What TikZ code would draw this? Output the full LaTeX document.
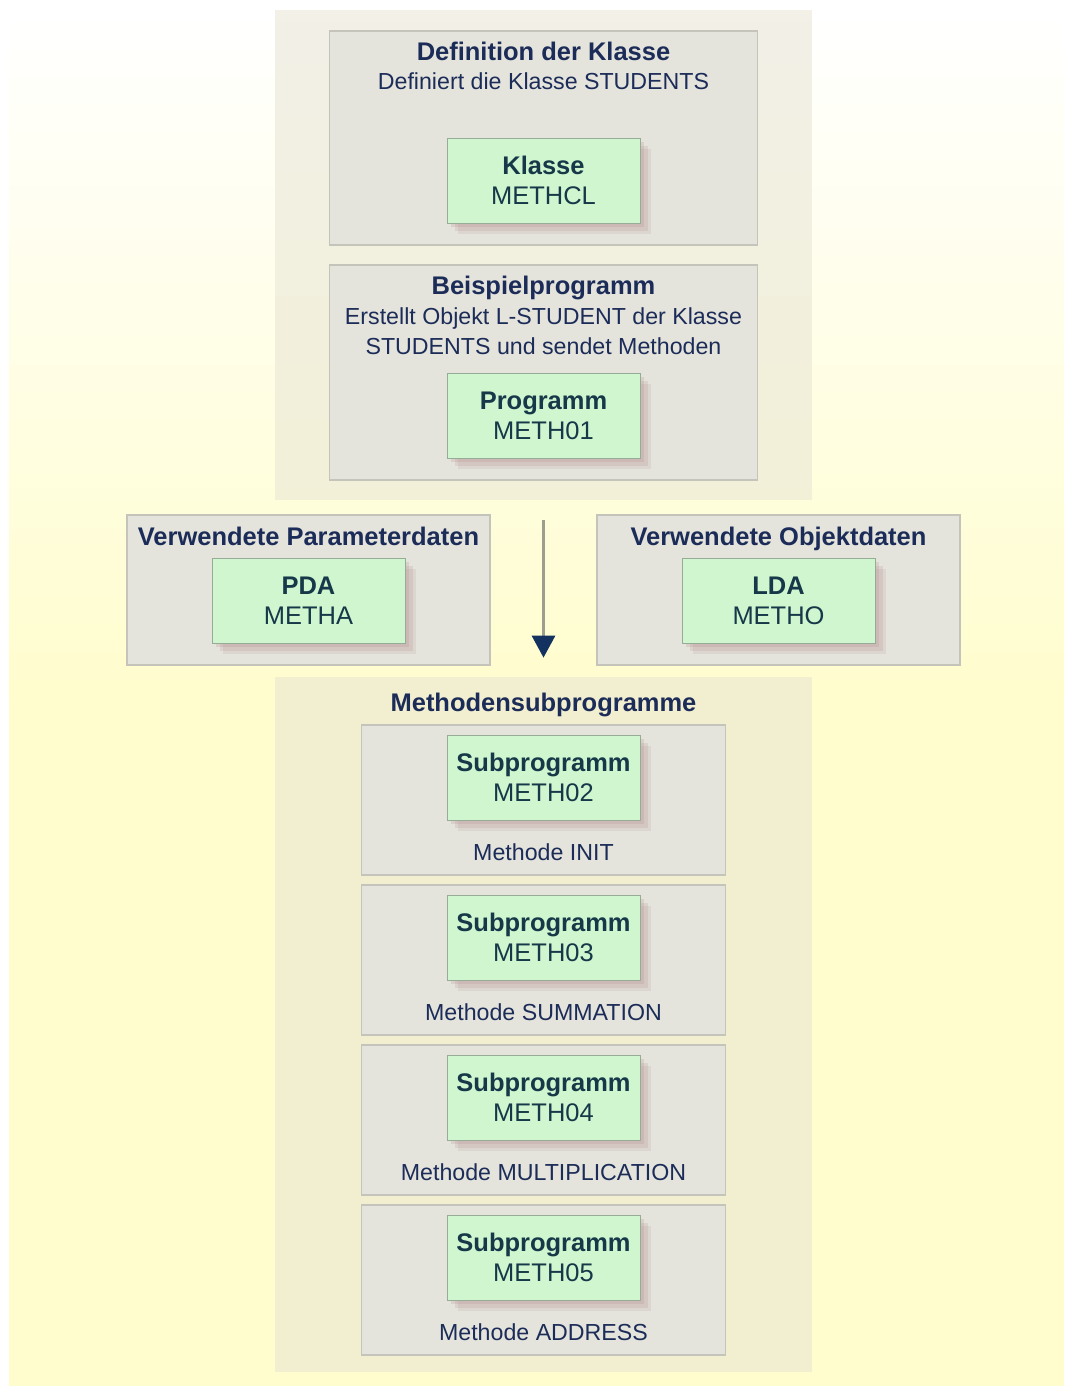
\documentclass[tikz,border=0pt]{standalone}
\usepackage{fontspec}
\setmainfont{Liberation Sans}
\usepackage{xcolor}
\usetikzlibrary{arrows.meta, positioning, shadows, calc}

\definecolor{navytext}{RGB}{28,44,88}
\definecolor{boxtext}{RGB}{22,56,72}
\definecolor{panelbg}{RGB}{232,229,212}
\definecolor{groupbg}{RGB}{228,227,220}
\definecolor{groupline}{RGB}{196,196,186}
\definecolor{modfill}{RGB}{208,246,208}
\definecolor{modline}{RGB}{150,172,150}
\definecolor{shadowred}{RGB}{170,125,125}
\definecolor{paperyellow}{RGB}{255,253,205}
\definecolor{arrowline}{RGB}{158,158,142}
\definecolor{arrowhead}{RGB}{20,50,95}

\begin{document}
\begin{tikzpicture}[
    font=\fontsize{13.2}{17}\selectfont,
    panel/.style={rectangle, fill=panelbg, fill opacity=0.55, minimum width=10.74cm,
                  inner sep=0pt},
    grp/.style={rectangle, draw=groupline, fill=groupbg, line width=0.6pt, inner sep=0pt},
    modbox/.style={rectangle, draw=modline, fill=modfill, minimum width=3.86cm,
                   minimum height=1.7cm, align=center, text=boxtext, inner sep=0pt,
                   font=\fontsize{14.5}{17}\selectfont,
                   drop shadow={shadow xshift=2.5pt, shadow yshift=-2.5pt, fill=shadowred, opacity=0.18},
                   drop shadow={shadow xshift=4.5pt, shadow yshift=-4.5pt, fill=shadowred, opacity=0.16},
                   drop shadow={shadow xshift=6.5pt, shadow yshift=-6.5pt, fill=shadowred, opacity=0.12}},
    ttl/.style={font=\fontsize{14.5}{17}\selectfont\bfseries, text=navytext,
                inner sep=0pt, anchor=base},
    note/.style={text=navytext, align=center, inner sep=0pt},
    flow/.style={arrowline, line width=1.7pt,
                 -{Triangle[color=arrowhead, length=0.44cm, width=0.46cm]}}
  ]

  \useasboundingbox (0,0) rectangle (21.28,-27.72);
  \fill[white] (0,0) rectangle (21.28,-27.72);
  \shade[top color=white, bottom color=paperyellow] (0.18,-0.3) rectangle (21.28,-14);
  \fill[paperyellow] (0.18,-14) rectangle (21.28,-27.72);

  \node[panel, minimum height=9.8cm]  (upper) at (10.87,-5.1)   {};
  \node[panel, minimum height=13.9cm] (lower) at (10.87,-20.49) {};

  \node[grp, minimum width=8.56cm, minimum height=4.28cm] (defgrp) at (10.87,-2.76) {};
  \node[ttl] (deftitle) at (10.87,-1.22) {Definition der Klasse};
  \node[note, anchor=base] (defnote) at (10.87,-1.8) {Definiert die Klasse STUDENTS};
  \node[modbox] (klasse) at (10.87,-3.61) {\textbf{Klasse}\\METHCL};

  \node[grp, minimum width=8.56cm, minimum height=4.3cm] (prggrp) at (10.87,-7.45) {};
  \node[ttl] (prgtitle) at (10.87,-5.9) {Beispielprogramm};
  \node[note] (prgnote) at (10.87,-6.63)
        {Erstellt Objekt L-STUDENT der Klasse\\STUDENTS und sendet Methoden};
  \node[modbox] (prog) at (10.87,-8.31) {\textbf{Programm}\\METH01};

  \node[grp, minimum width=7.26cm, minimum height=3cm] (pdagrp) at (6.17,-11.8) {};
  \node[ttl] (pdatitle) at (6.17,-10.9) {Verwendete Parameterdaten};
  \node[modbox] (pda) at (6.17,-12.01) {\textbf{PDA}\\METHA};

  \node[grp, minimum width=7.26cm, minimum height=3cm] (ldagrp) at (15.57,-11.8) {};
  \node[ttl] (ldatitle) at (15.57,-10.9) {Verwendete Objektdaten};
  \node[modbox] (lda) at (15.57,-12.01) {\textbf{LDA}\\METHO};

  \draw[flow, shorten <=0.4cm, shorten >=0.38cm] (upper.south) -- (lower.north);

  \node[ttl] (subtitle) at (10.87,-14.22) {Methodensubprogramme};

  \foreach \k/\num/\meth in {0/02/INIT, 1/03/SUMMATION, 2/04/MULTIPLICATION, 3/05/ADDRESS} {
    \node[grp, minimum width=7.28cm, minimum height=3cm] (grp\num) at (10.87,{-16.0-3.2*\k}) {};
    \node[modbox] (sub\num) at (10.87,{-15.55-3.2*\k}) {\textbf{Subprogramm}\\METH\num};
    \node[note, anchor=base] (lab\num) at (10.87,{-17.2-3.2*\k}) {Methode \meth};
  }

\end{tikzpicture}
\end{document}
